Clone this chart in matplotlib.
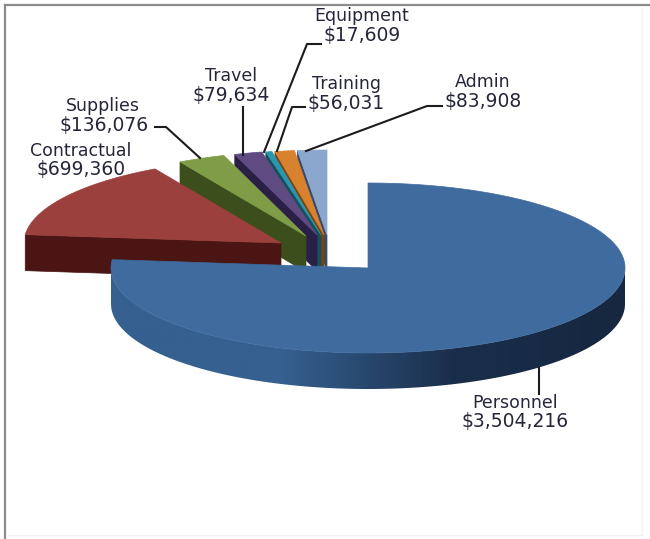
#!/usr/bin/env python3

import matplotlib
matplotlib.use("Agg")
import matplotlib.pyplot as plt
import numpy as np
from matplotlib.colors import LinearSegmentedColormap
from matplotlib.patches import Polygon

categories = ["Personnel", "Contractual", "Supplies", "Travel", "Equipment", "Training", "Admin"]
values = [3504216, 699360, 136076, 79634, 17609, 56031, 83908]

# layout, all in pixels of the 650x539 picture
TOP_COLOURS = ["#3f6b9f", "#9c403d", "#7f9d46", "#604a82", "#2b97ae", "#d8822f", "#8ba7cd"]
SIDE_COLOURS = ["#35608f", "#4a1513", "#3c4e1b", "#2a1f47", "#14505e", "#7a4410", "#3b4a68"]
CENTRES = [(368, 268), (281, 243), (306, 236), (317, 235), (321, 235), (324, 235), (327, 235)]
RX, RY, DEPTH = 257, 85, 36
LABEL_POS = [(515, 403), (81, 151), (103, 106), (231, 76), (362, 16), (346, 84), (483, 82)]
VALUE_POS = [(515, 422), (81, 170), (104, 125), (231, 95), (362, 35), (346, 103), (483, 101)]
LEADERS = {
    "Personnel": [(539, 394), (539, 368)],
    "Supplies": [(155, 127), (166, 127), (200, 158)],
    "Travel": [(243, 107), (243, 155)],
    "Equipment": [(321, 44), (307, 44), (264, 152)],
    "Training": [(305, 107), (292, 107), (277, 151)],
    "Admin": [(442, 106), (427, 106), (306, 151)],
}


def arc(centre, a0, a1, n=120):
    t = np.radians(np.linspace(a0, a1, n))
    return np.column_stack([centre[0] + RX * np.cos(t), centre[1] - RY * np.sin(t)])


fig = plt.figure(figsize=(6.5, 5.39), dpi=100)
ax = fig.add_axes([0, 0, 1, 1])
ax.axis("off")

shares = np.array(values) / sum(values) * 360
ends = 90 - np.cumsum(shares)
starts = ends + shares

# frame of the pasted picture
ax.plot([4.5, 4.5], [539, 5], color="#8c8c8c", lw=1.6)
ax.plot([4.5, 650], [5, 5], color="#8c8c8c", lw=1.6)
ax.plot([642, 642], [8, 535], color="#f6f0f0", lw=1)
ax.plot([8, 642], [535, 535], color="#f6f0f0", lw=1)

# back slices first, so that nearer ones cover them
for i in range(len(values) - 1, 0, -1):
    c = CENTRES[i]
    outer = arc(c, starts[i], ends[i])
    side = [c, outer[0], outer[0] + (0, DEPTH), (c[0], c[1] + DEPTH)]
    ax.add_patch(Polygon(side, closed=True, fc=SIDE_COLOURS[i], ec=SIDE_COLOURS[i], lw=0.5, zorder=2))
    ax.add_patch(Polygon(np.vstack([c, outer]), closed=True, fc=TOP_COLOURS[i], ec=TOP_COLOURS[i], lw=0.5, zorder=2))

# big slice, its rim gets darker to the right
c = CENTRES[0]
rim = arc(c, 180, 360, 200)
rim_poly = Polygon(np.vstack([rim, rim[::-1] + (0, DEPTH)]), closed=True, fc="none", ec="none", transform=ax.transData)
ax.add_patch(rim_poly)
rim_cmap = LinearSegmentedColormap.from_list("rim", [SIDE_COLOURS[0], SIDE_COLOURS[0], "#1a2e4b", "#16273f"])
img = ax.imshow(np.linspace(0, 1, 256)[None, :], cmap=rim_cmap, aspect="auto", extent=[c[0] - RX, c[0] + RX, c[1] + RY + DEPTH, c[1]], zorder=3)
img.set_clip_path(rim_poly)
outer = arc(c, starts[0], ends[0], 300)
ax.add_patch(Polygon(np.vstack([c, outer]), closed=True, fc=TOP_COLOURS[0], ec=TOP_COLOURS[0], lw=0.5, zorder=4))

for name, pts in LEADERS.items():
    xs, ys = zip(*pts)
    ax.plot(xs, ys, color="#1c1c1c", lw=1.5, zorder=5)

for i, name in enumerate(categories):
    ax.text(*LABEL_POS[i], name, ha="center", va="center", fontsize=12.5, color="#26263a", zorder=6)
    ax.text(*VALUE_POS[i], f"${values[i]:,}", ha="center", va="center", fontsize=13.5, color="#26263a", zorder=6)

ax.set_xlim(0, 650)
ax.set_ylim(539, 0)

fig.savefig("out.png", dpi=100)
